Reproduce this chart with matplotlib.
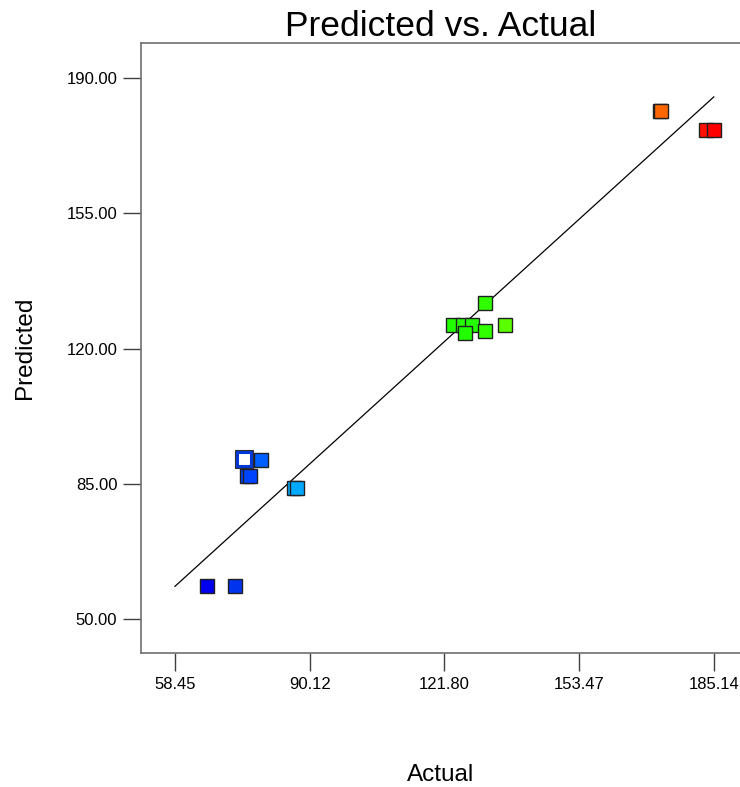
import matplotlib
matplotlib.use("Agg")
from matplotlib import pyplot as plt

# actual vs predicted values
actual = [66.04, 72.55, 74.67, 75.44, 76.08, 78.73, 86.42, 87.12,
          123.86, 126.06, 128.18, 126.60, 131.23, 131.23, 136.00,
          172.40, 172.74, 183.24, 185.14]
predicted = [58.45, 58.45, 91.40, 87.10, 87.10, 91.20, 83.80, 83.80,
             126.20, 126.20, 126.20, 124.10, 124.50, 131.70, 126.00,
             181.50, 181.50, 176.60, 176.60]
colors = ['#0000EE', '#0033EE', '#FFFFFF', '#0044FF', '#0044FF', '#0060FF', '#00A8FF', '#00A8FF',
          '#22FF00', '#22FF00', '#22FF00', '#22FF00', '#30FF00', '#30FF00', '#5CFF00',
          '#FF6600', '#FF6600', '#FF1000', '#FF0000']
highlight = 2  # the point drawn as an open square

xticks = [58.45, 90.12, 121.80, 153.47, 185.14]
yticks = [50.00, 85.00, 120.00, 155.00, 190.00]

plt.rcParams['font.family'] = ['Liberation Sans', 'DejaVu Sans']

fig = plt.figure(figsize=(7.40, 7.87), dpi=100)
ax = fig.add_axes([0.1905, 0.1703, 0.8095, 0.7751])

ax.plot([xticks[0], xticks[-1]], [xticks[0], xticks[-1]], color='black', lw=0.9, zorder=2)

for i in range(len(actual)):
    if i == highlight:
        ax.plot(actual[i], predicted[i], marker='s', ms=10, mfc='white',
                mec='#0038D8', mew=2.2, ls='none', zorder=3)
        ax.plot(actual[i], predicted[i], marker='s', ms=12.5, mfc='none',
                mec='#303030', mew=0.8, ls='none', zorder=3)
    else:
        ax.plot(actual[i], predicted[i], marker='s', ms=9.5, mfc=colors[i],
                mec='#202020', mew=1.0, ls='none', zorder=3)

ax.set_xlim(50.46, 191.3)
ax.set_ylim(41.2, 199.1)
ax.set_xticks(xticks)
ax.set_xticklabels(['%.2f' % v for v in xticks])
ax.set_yticks(yticks)
ax.set_yticklabels(['%.2f' % v for v in yticks])

for s in ['left', 'bottom', 'top']:
    ax.spines[s].set_color('#707070')
    ax.spines[s].set_linewidth(1.2)
ax.spines['right'].set_visible(False)
ax.tick_params(axis='both', direction='out', length=13, width=1.0, color='#404040',
               labelsize=12, pad=4)

ax.set_title('Predicted vs. Actual', fontsize=25.5, pad=3)
ax.set_xlabel('Actual', fontsize=17.5, labelpad=52)
ax.set_ylabel('Predicted', fontsize=17.5, labelpad=22)

fig.savefig('out.png', dpi=100)
